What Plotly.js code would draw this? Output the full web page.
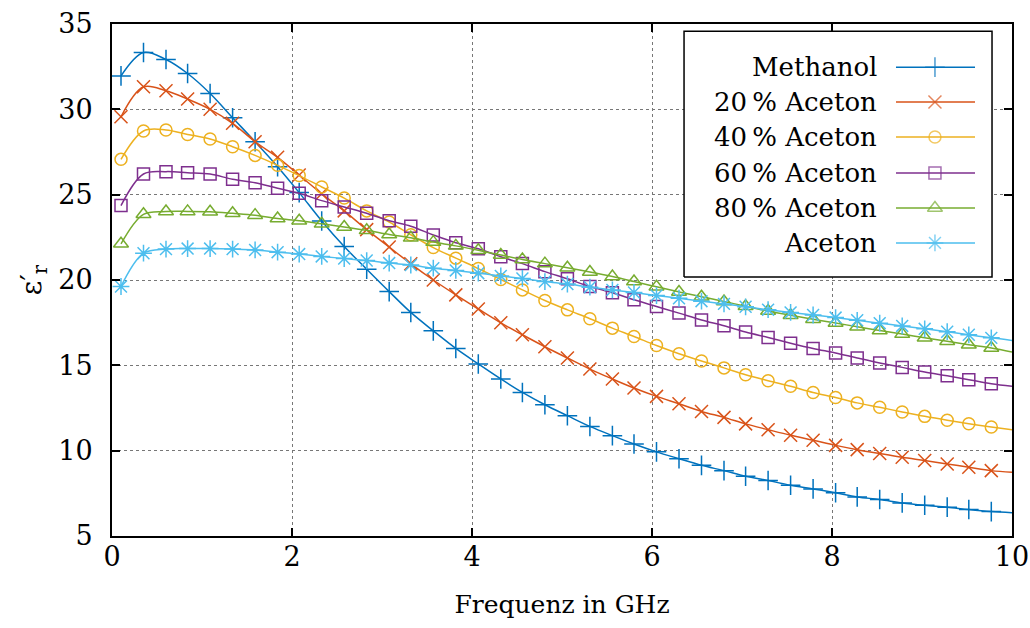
<!DOCTYPE html>
<html>
<head>
<meta charset="utf-8">
<script src="https://cdn.plot.ly/plotly-3.0.1.min.js"></script>
<style>html,body{margin:0;padding:0;background:#fff;}#chart{width:1030px;height:628px;}</style>
</head>
<body>
<div id="chart"></div>
<script>
// Frequency (GHz) at the marker positions
const freq = [0.10,0.35,0.60,0.84,1.09,1.34,1.59,1.84,2.08,2.33,2.58,2.83,3.08,3.32,3.57,3.82,4.07,4.32,4.56,4.81,
              5.06,5.31,5.56,5.80,6.05,6.30,6.55,6.80,7.04,7.29,7.54,7.79,8.04,8.28,8.53,8.78,9.03,9.28,9.52,9.77];
const freqEnd = 10;

const seriesNames = ["Methanol", "20\u2009% Aceton", "40\u2009% Aceton", "60\u2009% Aceton", "80\u2009% Aceton", "Aceton"];

const methanol = [31.96,33.33,32.92,32.10,30.93,29.51,28.10,26.64,25.12,23.46,21.96,20.63,19.32,18.10,17.02,15.99,15.08,14.20,13.41,12.69,
                  12.05,11.42,10.88,10.39,9.93,9.53,9.14,8.83,8.50,8.25,7.97,7.76,7.53,7.29,7.14,6.94,6.80,6.69,6.55,6.43];
const aceton20 = [29.56,31.32,31.09,30.60,30.00,29.18,28.10,27.19,26.15,25.05,24.05,22.95,21.93,20.95,20.00,19.13,18.30,17.49,16.79,16.09,
                  15.43,14.78,14.20,13.67,13.18,12.75,12.30,11.95,11.57,11.23,10.90,10.61,10.31,10.06,9.83,9.61,9.42,9.22,9.03,8.83];
const aceton40 = [27.07,28.73,28.79,28.53,28.26,27.81,27.30,26.72,26.12,25.45,24.80,24.05,23.40,22.65,21.90,21.28,20.67,20.03,19.42,18.80,
                  18.25,17.73,17.18,16.69,16.16,15.68,15.25,14.85,14.45,14.10,13.77,13.41,13.12,12.80,12.54,12.27,12.01,11.78,11.58,11.39];
const aceton60 = [24.36,26.21,26.35,26.29,26.21,25.90,25.70,25.37,25.08,24.65,24.28,23.91,23.47,23.15,22.64,22.18,21.83,21.36,20.96,20.49,
                  20.07,19.62,19.25,18.84,18.45,18.06,17.66,17.32,16.95,16.63,16.30,15.99,15.72,15.43,15.14,14.88,14.61,14.39,14.16,13.92];
const aceton80 = [22.12,23.85,24.01,24.02,24.00,23.91,23.80,23.60,23.47,23.29,23.11,22.91,22.67,22.47,22.22,22.00,21.74,21.46,21.20,20.96,
                  20.72,20.47,20.20,19.91,19.60,19.30,19.02,18.74,18.46,18.18,17.93,17.70,17.48,17.26,17.04,16.83,16.62,16.41,16.21,16.02];
const aceton100 = [19.62,21.57,21.81,21.84,21.84,21.81,21.76,21.63,21.52,21.38,21.26,21.14,20.99,20.88,20.69,20.56,20.40,20.24,20.09,19.91,
                  19.76,19.58,19.42,19.27,19.09,18.93,18.76,18.60,18.43,18.26,18.10,17.95,17.80,17.64,17.47,17.31,17.14,16.97,16.79,16.61];
// curve values at the right edge (10 GHz)
const endValues = [6.36, 8.73, 11.23, 13.77, 15.78, 16.46];

const seriesValues = [methanol, aceton20, aceton40, aceton60, aceton80, aceton100];
const colors = ["#0072BD", "#D95319", "#EDB120", "#7E2F8E", "#77AC30", "#4DBEEE"];
const symbols = ["cross-thin-open", "x-thin-open", "circle-open", "square-open", "triangle-up-open", "asterisk-open"];
const sizes = [14, 13, 12, 12, 13, 14];

const FONT = "DejaVu Serif";
const traces = [];

seriesValues.forEach((vals, i) => {
  traces.push({
    x: freq.concat([freqEnd]), y: vals.concat([endValues[i]]),
    mode: "lines", line: {color: colors[i], width: 1.5, shape: "spline", smoothing: 1},
    showlegend: false, hoverinfo: "skip"
  });
  traces.push({
    x: freq, y: vals, name: seriesNames[i],
    mode: "markers",
    marker: {symbol: symbols[i], size: sizes[i], color: colors[i], line: {color: colors[i], width: 1.5}},
    showlegend: false
  });
});

// custom gnuplot-style legend (text right, sample at right), on an overlay 0..1 axis pair
const legBox = {x0: 0.6356, x1: 0.9778, y0: 0.5061, y1: 0.986};
traces.push({
  x: [legBox.x0, legBox.x1, legBox.x1, legBox.x0, legBox.x0],
  y: [legBox.y0, legBox.y0, legBox.y1, legBox.y1, legBox.y0],
  xaxis: "x2", yaxis: "y2", mode: "lines", fill: "toself", fillcolor: "#fff",
  line: {color: "#000", width: 1.5}, showlegend: false, hoverinfo: "skip"
});
const legRowsY = [0.9157, 0.8475, 0.7792, 0.7090, 0.6407, 0.5725];
const annotations = [];
seriesNames.forEach((n, i) => {
  traces.push({
    x: [0.8711, 0.9144, 0.9589], y: [legRowsY[i], legRowsY[i], legRowsY[i]],
    xaxis: "x2", yaxis: "y2", mode: "lines+markers",
    line: {color: colors[i], width: 1.5},
    marker: {symbol: symbols[i], size: [0, sizes[i], 0], color: colors[i], line: {color: colors[i], width: 1.5}},
    showlegend: false, hoverinfo: "skip"
  });
  annotations.push({
    xref: "x2", yref: "y2", x: 0.852, y: legRowsY[i], text: n, showarrow: false,
    xanchor: "right", yanchor: "middle", font: {family: FONT, size: 26, color: "#000"}
  });
});

const axisCommon = {
  showline: true, linecolor: "#000", linewidth: 2, mirror: "ticks",
  ticks: "inside", ticklen: 8, tickwidth: 2, tickcolor: "#000",
  showgrid: true, gridcolor: "#777", gridwidth: 1, griddash: "dot",
  zeroline: false, tickfont: {family: FONT, size: 27, color: "#000"},
  fixedrange: true
};

const layout = {
  width: 1030, height: 628,
  margin: {l: 112, r: 18, t: 24, b: 92},
  paper_bgcolor: "#fff", plot_bgcolor: "#fff",
  showlegend: false,
  font: {family: FONT, size: 26, color: "#000"},
  xaxis: Object.assign({}, axisCommon, {
    range: [0, 10], dtick: 2, tick0: 0, ticklabelstandoff: -4,
    title: {text: "Frequenz in GHz", font: {family: FONT, size: 25, color: "#000"}, standoff: 24}
  }),
  yaxis: Object.assign({}, axisCommon, {
    range: [5, 35], dtick: 5, tick0: 5, ticklabelstandoff: 12,
    title: {text: "ε′<sub>r</sub>", font: {family: FONT, size: 28, color: "#000"}, standoff: 8}
  }),
  xaxis2: {overlaying: "x", anchor: "y2", range: [0, 1], visible: false, fixedrange: true},
  yaxis2: {overlaying: "y", anchor: "x2", range: [0, 1], visible: false, fixedrange: true},
  annotations: annotations
};

Plotly.newPlot("chart", traces, layout, {staticPlot: true, displayModeBar: false});
</script>
</body>
</html>
